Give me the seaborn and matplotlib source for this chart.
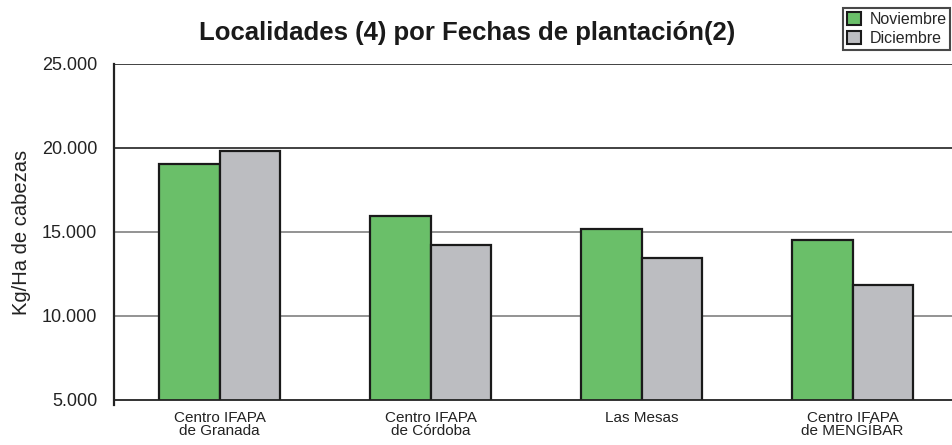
import pandas as pd
import seaborn as sns
import matplotlib.pyplot as plt

# data
localidades = ['Centro IFAPA\nde Granada', 'Centro IFAPA\nde Córdoba', 'Las Mesas', 'Centro IFAPA\nde MENGÍBAR']
fechas = ['Noviembre', 'Diciembre']
noviembre = [19050, 15950, 15180, 14520]
diciembre = [19820, 14230, 13450, 11850]
y_ticks = [5000, 10000, 15000, 20000, 25000]
y_tick_labels = ['5.000', '10.000', '15.000', '20.000', '25.000']

df = pd.DataFrame({
    'Localidad': localidades * 2,
    'Fecha': [fechas[0]] * 4 + [fechas[1]] * 4,
    'Kg': noviembre + diciembre,
})

sns.set_style('white')
plt.rcParams['font.family'] = ['Liberation Sans', 'DejaVu Sans']

fig = plt.figure(figsize=(9.52, 4.45), dpi=100)
ax = fig.add_axes([114 / 952, 45 / 445, 838 / 952, 336 / 445])

palette = {'Noviembre': '#6abf69', 'Diciembre': '#bcbdc1'}
sns.barplot(data=df, x='Localidad', y='Kg', hue='Fecha', hue_order=fechas,
            palette=palette, width=0.57, edgecolor='#1a1a1a', linewidth=1.6,
            saturation=1, ax=ax, legend=True)

ax.set_ylim(5000, 25000)
ax.set_xlim(-0.5, -0.5 + 838 / 211)
ax.set_yticks(y_ticks)
ax.set_yticklabels(y_tick_labels, fontsize=13, color='#222222')
ax.tick_params(axis='y', direction='out', length=9, width=1.2, color='#333333', pad=3)

# category boundary ticks below the axis
ax.set_xticks([i - 0.5 for i in range(4)], minor=False)
ax.set_xticklabels([])
ax.tick_params(axis='x', which='major', direction='out', length=12, width=1.3, color='#222222')
ax.set_xticks(range(4), minor=True)
ax.set_xticklabels(localidades, minor=True, fontsize=11, color='#222222', linespacing=0.9)
ax.tick_params(axis='x', which='minor', length=0, pad=8)

# horizontal grid lines
for y, c in zip([10000, 15000, 20000, 25000], ['#8a8a8a', '#8a8a8a', '#333333', '#333333']):
    ax.axhline(y, color=c, linewidth=1.3, zorder=0)

for s in ['top', 'right']:
    ax.spines[s].set_visible(False)
ax.spines['left'].set_color('#222222')
ax.spines['left'].set_linewidth(1.6)
ax.spines['left'].set_bounds(4700, 25000)
ax.spines['bottom'].set_color('#222222')
ax.spines['bottom'].set_linewidth(1.3)

ax.set_xlabel('')
ax.set_ylabel('Kg/Ha de cabezas', fontsize=14.5, color='#222222', labelpad=8)

fig.text(467 / 952, 1 - 33 / 445, 'Localidades (4) por Fechas de plantación(2)',
         ha='center', va='center', fontsize=18.5, fontweight='bold', color='#1a1a1a')

ax.legend_.remove()
handles = [plt.Rectangle((0, 0), 1, 1, facecolor=palette[f], edgecolor='#1a1a1a', linewidth=1.5)
           for f in fechas]
leg = fig.legend(handles, fechas, loc='upper left', bbox_to_anchor=(843 / 952, 1 - 8 / 445),
                 fontsize=11.5, frameon=True, fancybox=False, borderpad=0.25,
                 handlelength=0.9, handleheight=0.9, handletextpad=0.5,
                 labelspacing=0.25, borderaxespad=0)
leg.get_frame().set_edgecolor('#1a1a1a')
leg.get_frame().set_linewidth(1.5)

fig.savefig('out.png', dpi=100)
